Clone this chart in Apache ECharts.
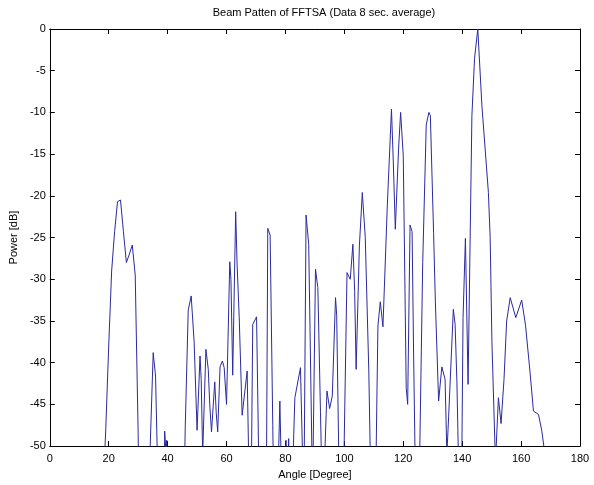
<!DOCTYPE html>
<html>
<head>
<meta charset="utf-8">
<script src="https://cdn.jsdelivr.net/npm/echarts@6/dist/echarts.min.js"></script>
<style>
html,body{margin:0;padding:0;background:#fff;}
#chart{width:594px;height:485px;}
</style>
</head>
<body>
<div id="chart"></div>
<script>
// Data (angle in degrees, power in dB).
// Values below -50 dB fall outside the plotted range and are clipped.
const titleText = 'Beam Patten of FFTSA (Data 8 sec. average)';
const xName = 'Angle [Degree]';
const yName = 'Power [dB]';
const xTicks = [0, 20, 40, 60, 80, 100, 120, 140, 160, 180];
const yTicks = [-50, -45, -40, -35, -30, -25, -20, -15, -10, -5, 0];

const angles = [
  17.5, 18, 19, 20, 21, 22, 23, 24, 25, 26, 27, 28, 29, 30, 31,
  33.5, 34, 35.1, 35.9, 36.5, 37,
  38.6, 39.0, 39.4, 39.7, 40.1,
  45.3, 46, 47, 48, 49, 50, 51, 51.4, 51.9, 53.0, 53.8, 54.3, 54.9, 56.0, 56.5, 57.0,
  57.8, 58.6, 59.2, 60.0, 61.1, 61.5, 62.1, 63.1, 63.6, 64.3, 65.3, 67.0, 67.5, 68.0,
  68.5, 68.9, 70.2, 70.9, 72,
  73.6, 74.0, 74.8, 75.7, 76.0, 77,
  77.7, 78.1, 78.5, 79.2, 80.2, 80.6, 81.1, 81.6,
  82.7, 83.2, 85.1, 85.8, 86.1,
  86.4, 87.0, 87.9, 89.0, 89.2,
  89.4, 90.2, 91.0, 91.9, 92.2, 92.8,
  93.4, 94.1, 95.0, 95.9, 97.0, 97.4, 98.1, 99,
  99.9, 100.9, 102.0, 102.9, 103.5, 104.0, 105.1, 106.1, 107.1, 108.3, 108.8, 110,
  110.8, 111.4, 112.2, 113.1, 114.6, 116.0, 116.6, 117.3, 118.4, 119.1, 120.0, 121.0,
  121.5, 122.3, 123.0, 123.5, 124.0, 125,
  125.6, 126.6, 127.8, 128.7, 129.2, 130.3, 130.9, 132.0, 133.1, 134.2, 134.8, 135.4,
  137.0, 137.6, 138.2, 138.7, 139.3,
  139.9, 140.3, 141.1, 142.0, 143.3, 144.2, 145.3, 146.7, 148.9, 149.5, 150.1, 151.3,
  152.3, 153.2, 154.2, 155.1, 156.3, 158.2, 160.2, 161.5, 163.0, 164.2, 165.9, 167.0,
  168.1, 169
];
const power = [
  -60, -60, -48, -38, -29, -24.3, -20.7, -20.5, -24.3, -28, -27, -25.9, -29.5, -48.5, -80,
  -60, -51, -38.8, -41.6, -51, -60,
  -60, -48.2, -50.5, -49.3, -60,
  -60, -47.5, -33.7, -32.0, -37.5, -48.1, -39.2, -42, -51, -38.4, -40.8, -45, -48.3, -42.3, -46, -48.3,
  -40.5, -39.8, -40.6, -45, -27.9, -30, -41.5, -21.9, -28.3, -34.5, -46.3, -41, -51, -60,
  -50.5, -35.4, -34.5, -51, -60,
  -50.5, -23.9, -24.7, -47.5, -55, -60,
  -50.5, -44.6, -51, -60, -49.3, -56, -49.1, -60,
  -50, -44.2, -40.6, -51, -60,
  -50.5, -22.3, -25.8, -51, -60,
  -50.5, -28.8, -31, -46, -51, -60,
  -50.5, -43.4, -45.5, -44, -32.2, -34.3, -51, -60,
  -50.5, -29.2, -30, -25.8, -31.5, -40.8, -26, -19.6, -25, -41, -51, -60,
  -50.5, -35.6, -32.7, -35.7, -21, -9.6, -15.8, -24, -14.4, -10, -15.2, -43,
  -45, -23.5, -24.3, -38.6, -51, -60,
  -50.5, -28, -11.5, -10, -10.4, -24.5, -32.7, -44.6, -40.5, -42, -51, -46.5,
  -33.6, -35.4, -42.2, -51, -60,
  -50.5, -34.6, -25.1, -42.6, -10.4, -3.5, 0, -9.2, -19.6, -25, -37.5, -52,
  -44.2, -47.3, -42, -35, -32.2, -34.6, -32.5, -35.5, -41, -45.8, -46.2, -48.1,
  -51, -60
];

const lineData = angles.map((a, i) => [a, power[i]]);

const FONT = "'Liberation Sans', Arial, Helvetica, sans-serif";
const FS = 11;
const axisCommon = {
  type: 'value',
  axisLine: { show: true, onZero: false, lineStyle: { color: '#000', width: 1 } },
  axisTick: { show: true, inside: true, length: 5, lineStyle: { color: '#000' } },
  splitLine: { show: false }
};

const chart = echarts.init(document.getElementById('chart'), null, { renderer: 'canvas' });
chart.setOption({
  animation: false,
  backgroundColor: '#fff',
  title: {
    text: titleText,
    left: 319,
    top: 2,
    textAlign: 'center',
    textStyle: { fontSize: FS, fontWeight: 'normal', color: '#000', fontFamily: FONT }
  },
  grid: { left: 49, top: 29, right: 14, bottom: 36, containLabel: false },
  xAxis: [
    Object.assign({}, axisCommon, {
      position: 'bottom',
      min: xTicks[0], max: xTicks[xTicks.length - 1], interval: xTicks[1] - xTicks[0],
      name: xName, nameLocation: 'middle', nameGap: 21,
      nameTextStyle: { color: '#000', fontSize: FS, fontFamily: FONT },
      axisLabel: { color: '#000', fontSize: FS, fontFamily: FONT, margin: 7 }
    }),
    Object.assign({}, axisCommon, {
      position: 'top',
      min: xTicks[0], max: xTicks[xTicks.length - 1], interval: xTicks[1] - xTicks[0],
      axisLabel: { show: false }
    })
  ],
  yAxis: [
    Object.assign({}, axisCommon, {
      position: 'left',
      min: yTicks[0], max: yTicks[yTicks.length - 1], interval: yTicks[1] - yTicks[0],
      name: yName, nameLocation: 'middle', nameGap: 23, nameRotate: 90,
      nameTextStyle: { color: '#000', fontSize: FS, fontFamily: FONT },
      axisLabel: { color: '#000', fontSize: FS, fontFamily: FONT, margin: 4 }
    }),
    Object.assign({}, axisCommon, {
      position: 'right',
      min: yTicks[0], max: yTicks[yTicks.length - 1], interval: yTicks[1] - yTicks[0],
      axisLabel: { show: false }
    })
  ],
  series: [{
    type: 'line',
    xAxisIndex: 0,
    yAxisIndex: 0,
    data: lineData,
    showSymbol: false,
    symbol: 'none',
    clip: true,
    lineStyle: { color: '#2a2aa0', width: 1 },
    itemStyle: { color: '#2a2aa0' }
  }]
});
</script>
</body>
</html>
